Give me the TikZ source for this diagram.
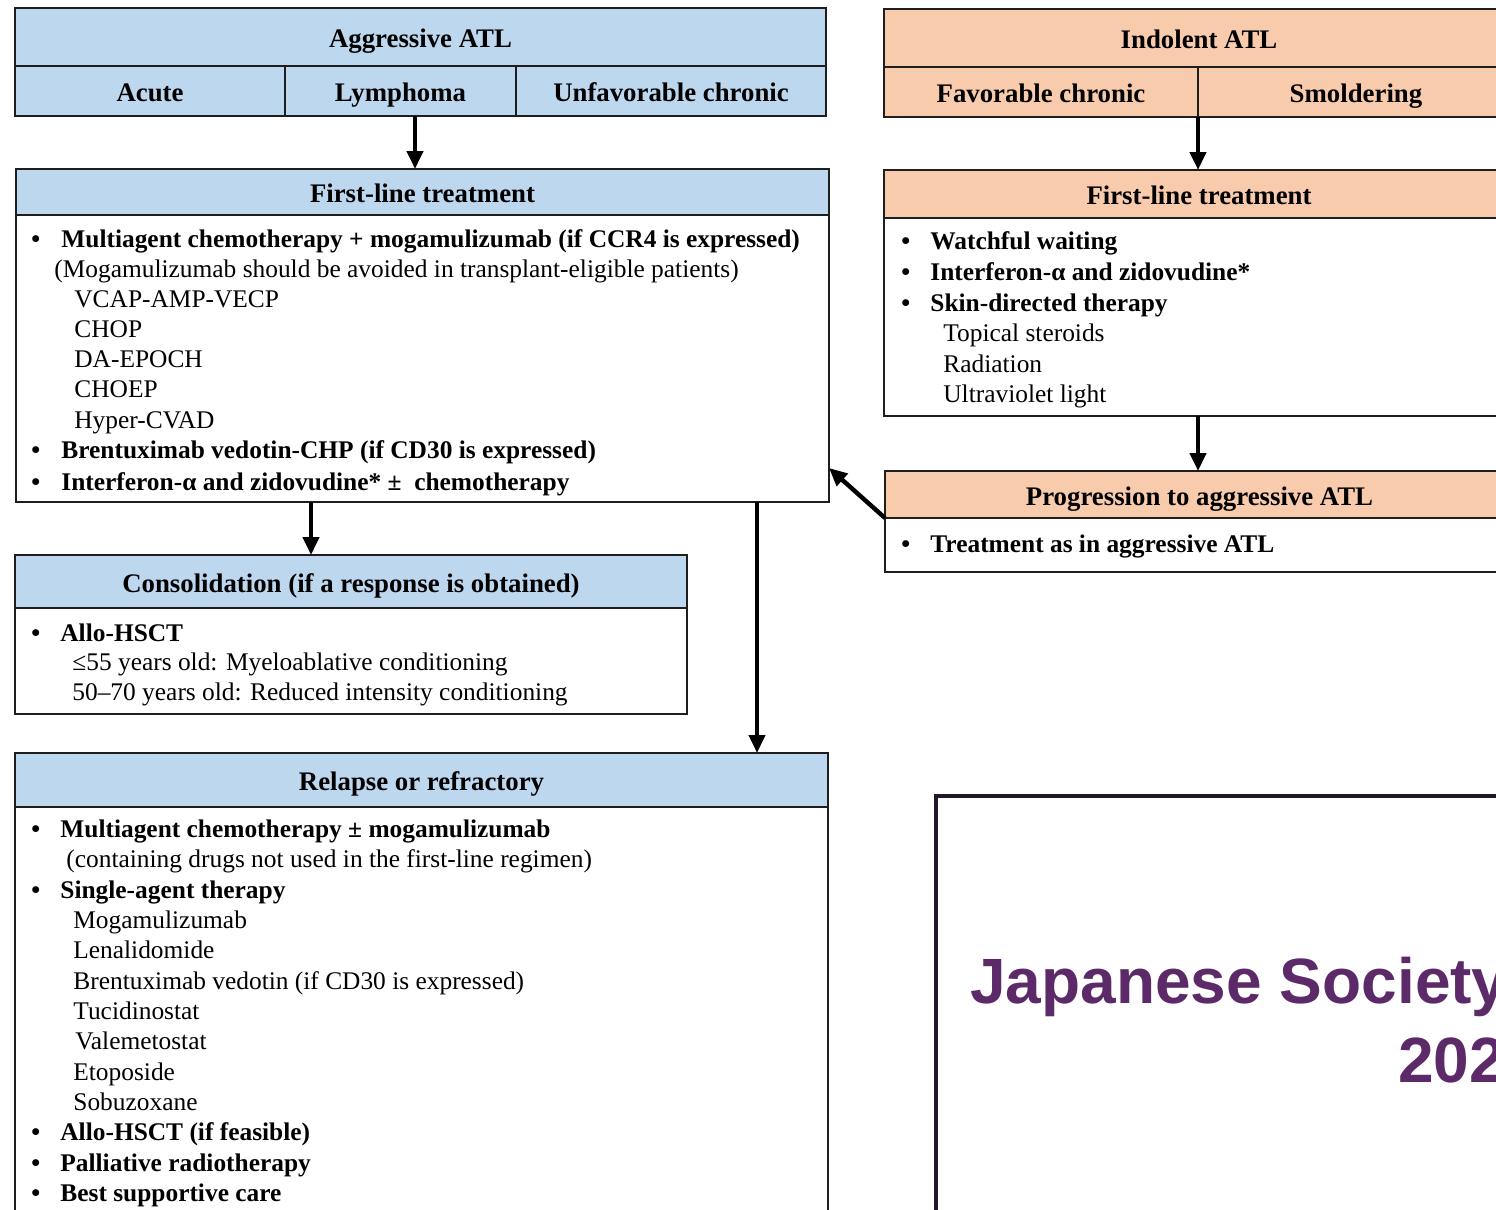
\documentclass[tikz,border=0pt]{standalone}
\usepackage{fontspec}
\setmainfont{Liberation Serif}
\newfontfamily\arialfont{Liberation Sans}
\usetikzlibrary{arrows.meta,fit}
\definecolor{aggblue}{RGB}{189,215,238}
\definecolor{indorange}{RGB}{248,203,173}
\definecolor{jpurple}{RGB}{92,42,104}
\definecolor{edgecol}{RGB}{30,30,30}
\definecolor{jborder}{RGB}{35,22,40}
\tikzset{
  boxline/.style={draw=edgecol, line width=1pt, inner sep=0pt, outer sep=0pt},
  bluehdr/.style={boxline, fill=aggblue},
  orghdr/.style={boxline, fill=indorange},
  bodybox/.style={boxline, fill=white},
  hdrtxt/.style={font=\fontsize{13.4}{16}\selectfont\bfseries, inner sep=0pt,
                 text height=0.9em, text depth=0.24em, yshift=-2pt},
  txt/.style={font=\fontsize{12.7}{15}\selectfont, inner sep=0pt, anchor=base west},
  btxt/.style={txt, font=\fontsize{12.7}{15}\selectfont\bfseries},
  bul/.style={txt, font=\fontsize{12.7}{15}\selectfont\bfseries},
  arr/.style={line width=2.2pt, draw=black, -{Triangle[length=9pt,width=8pt]}},
}
\newcommand\Ln[4]{\node[txt] (#1) at (#2,#3) {#4};}
\newcommand\Bt[5]{\node[bul] (#1b) at (#2,#4) {•};\node[btxt] (#1) at (#3,#4) {#5};}
\begin{document}
\begin{tikzpicture}[x=0.5pt,y=-0.5pt]
\useasboundingbox (0,0) rectangle (1496,1210);
\clip (0,0) rectangle (1496,1210);
\fill[white] (0,0) rectangle (1496,1210);

% ---------- Aggressive ATL ----------
\node[bluehdr, fit={(15,8)(826,66)}] (aggH) {};
\node[bluehdr, fit={(15,66)(285,116)}] (acute) {};
\node[bluehdr, fit={(285,66)(516,116)}] (lymph) {};
\node[bluehdr, fit={(516,66)(826,116)}] (unfav) {};
\node[hdrtxt] (aggT) at (aggH.center) {Aggressive ATL};
\node[hdrtxt] (acuteT) at (acute.center) {Acute};
\node[hdrtxt] (lymphT) at (lymph.center) {Lymphoma};
\node[hdrtxt] (unfavT) at (unfav.center) {Unfavorable chronic};

% ---------- First-line (aggressive) ----------
\node[bluehdr, fit={(16,169)(829,215)}] (flLH) {};
\node[bodybox, fit={(16,215)(829,502)}] (flL) {};
\node[hdrtxt] (flLT) at (flLH.center) {First-line treatment};
\Bt{a1}{31}{61}{247}{Multiagent chemotherapy + mogamulizumab (if CCR4 is expressed)}
\Ln{a2}{54}{277}{(Mogamulizumab should be avoided in transplant-eligible patients)}
\Ln{a3}{74}{307}{VCAP-AMP-VECP}
\Ln{a4}{74}{337}{CHOP}
\Ln{a5}{74}{367}{DA-EPOCH}
\Ln{a6}{74}{397}{CHOEP}
\Ln{a7}{74}{428}{Hyper-CVAD}
\Bt{a8}{31}{61}{458}{Brentuximab vedotin-CHP (if CD30 is expressed)}
\Bt{a9}{31}{61}{490}{Interferon-α and zidovudine* ±~ chemotherapy}

% ---------- Consolidation ----------
\node[bluehdr, fit={(15,555)(687,608)}] (conH) {};
\node[bodybox, fit={(15,608)(687,714)}] (con) {};
\node[hdrtxt] (conT) at (conH.center) {Consolidation (if a response is obtained)};
\Bt{c1}{31}{60}{641}{Allo-HSCT}
\Ln{c2}{72}{670}{≤55 years old: Myeloablative conditioning}
\Ln{c3}{72}{700}{50–70 years old: Reduced intensity conditioning}

% ---------- Relapse ----------
\node[bluehdr, fit={(15,753)(828,807)}] (relH) {};
\node[bodybox, fit={(15,807)(828,1240)}] (rel) {};
\node[hdrtxt] (relT) at (relH.center) {Relapse or refractory};
\Bt{r1}{31}{60}{837}{Multiagent chemotherapy ± mogamulizumab}
\Ln{r2}{66}{867}{(containing drugs not used in the first-line regimen)}
\Bt{r3}{31}{60}{898}{Single-agent therapy}
\Ln{r4}{73}{928}{Mogamulizumab}
\Ln{r5}{73}{958}{Lenalidomide}
\Ln{r6}{73}{989}{Brentuximab vedotin (if CD30 is expressed)}
\Ln{r7}{73}{1019}{Tucidinostat}
\Ln{r8}{75}{1049}{Valemetostat}
\Ln{r9}{73}{1080}{Etoposide}
\Ln{r10}{73}{1110}{Sobuzoxane}
\Bt{r11}{31}{60}{1140}{Allo-HSCT (if feasible)}
\Bt{r12}{31}{60}{1171}{Palliative radiotherapy}
\Bt{r13}{31}{60}{1201}{Best supportive care}

% ---------- Indolent ATL ----------
\node[orghdr, fit={(884,9)(1514,67)}] (indH) {};
\node[orghdr, fit={(884,67)(1198,117)}] (favc) {};
\node[orghdr, fit={(1198,67)(1514,117)}] (smol) {};
\node[hdrtxt] (indT) at (indH.center) {Indolent ATL};
\node[hdrtxt] (favcT) at (favc.center) {Favorable chronic};
\node[hdrtxt] (smolT) at (smol.center) {Smoldering};

% ---------- First-line (indolent) ----------
\node[orghdr, fit={(884,170)(1514,218)}] (flRH) {};
\node[bodybox, fit={(884,218)(1514,416)}] (flR) {};
\node[hdrtxt] (flRT) at (flRH.center) {First-line treatment};
\Bt{i1}{901}{930}{249}{Watchful waiting}
\Bt{i2}{901}{930}{280}{Interferon-α and zidovudine*}
\Bt{i3}{901}{930}{311}{Skin-directed therapy}
\Ln{i4}{943}{341}{Topical steroids}
\Ln{i5}{943}{372}{Radiation}
\Ln{i6}{943}{402}{Ultraviolet light}

% ---------- Progression ----------
\node[orghdr, fit={(885,471)(1514,518)}] (progH) {};
\node[bodybox, fit={(885,518)(1514,572)}] (prog) {};
\node[hdrtxt] (progT) at (progH.center) {Progression to aggressive ATL};
\Bt{p1}{901}{930}{552}{Treatment as in aggressive ATL}

% ---------- Japanese Society box ----------
\node[draw=jborder, line width=2pt, inner sep=0pt, fit={(936,796)(1540,1240)}] (jsbox) {};
\node[anchor=base west, inner sep=0pt, text=jpurple,
      font=\arialfont\bfseries\fontsize{32}{38}\selectfont] (jsT) at (970,1003) {Japanese Society};
\node[anchor=base west, inner sep=0pt, text=jpurple,
      font=\arialfont\bfseries\fontsize{32}{38}\selectfont] (jsY) at (1398,1082) {202};

% ---------- Connectors ----------
\coordinate (x415) at (415,0);
\coordinate (x1198) at (1198,0);
\coordinate (x311) at (311,0);
\coordinate (x757) at (757,0);
\coordinate (y468) at (0,468);
\draw[arr] (lymph.south -| x415) -- (flLH.north -| x415);
\draw[arr] (favc.south -| x1198) -- (flRH.north -| x1198);
\draw[arr] (flR.south -| x1198) -- (progH.north -| x1198);
\draw[arr] (flL.south -| x311) -- (conH.north -| x311);
\draw[arr] (flL.south -| x757) -- (relH.north -| x757);
\draw[arr] (progH.south west) -- (flL.east |- y468);
\end{tikzpicture}
\end{document}
